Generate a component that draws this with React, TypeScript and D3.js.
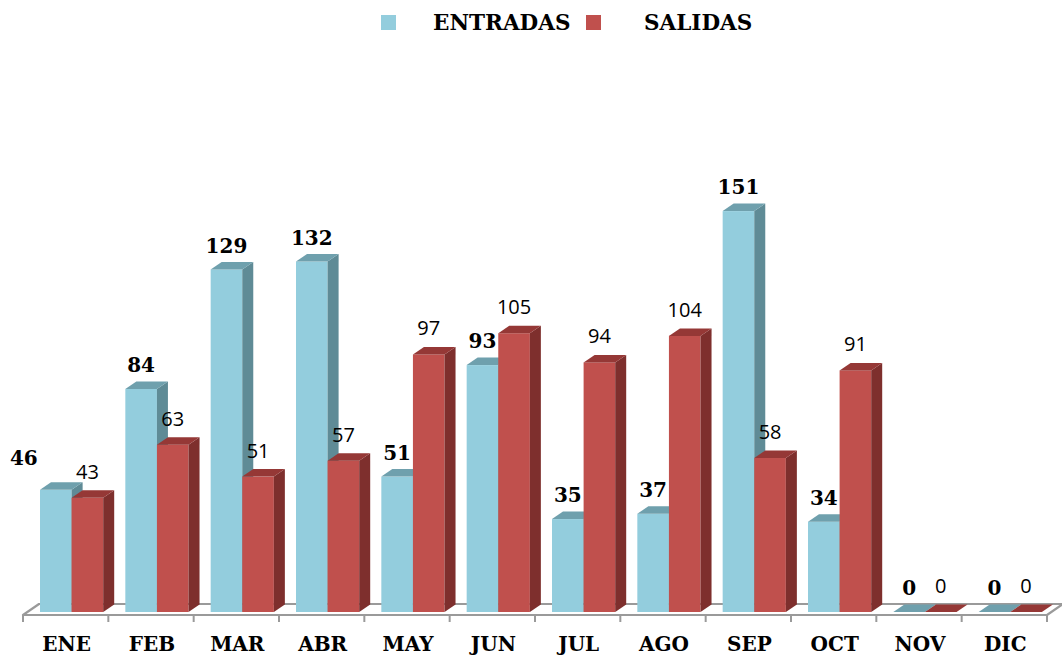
import React from "react";
import * as d3 from "d3";

const months = ["ENE", "FEB", "MAR", "ABR", "MAY", "JUN", "JUL", "AGO", "SEP", "OCT", "NOV", "DIC"];
const entradas = [46, 84, 129, 132, 51, 93, 35, 37, 151, 34, 0, 0];
const salidas = [43, 63, 51, 57, 97, 105, 94, 104, 58, 91, 0, 0];
const seriesNames = ["ENTRADAS", "SALIDAS"];

const W = 1062;
const H = 656;

const colors = [
  { front: "#93CDDD", side: "#5F8B96", top: "#6FA0AD" },
  { front: "#C0504D", side: "#7E2F2D", top: "#953836" },
];

const SERIF = "'DejaVu Serif', serif";
const SANS = "'Open Sans', 'Noto Sans', sans-serif";

export default function App() {
  const floorFrontY = 615;
  const floorDx = 16;
  const floorDy = -11;
  const baseY = 612;
  const plotLeft = 23;
  const plotRight = 1047;

  const x = d3.scaleBand<string>().domain(months).range([plotLeft, plotRight]).padding(0);
  const y = d3.scaleLinear().domain([0, 160]).range([baseY, baseY - 160 * 2.655]);

  const barW = 31.6;
  const depthX = 11;
  const depthY = -7.5;
  const barOffset = 17;

  const data = [entradas, salidas];

  const bars: React.ReactNode[] = [];
  months.forEach((m, i) => {
    data.forEach((series, s) => {
      const v = series[i];
      const x0 = (x(m) as number) + barOffset + s * barW;
      const x1 = x0 + barW;
      const yt = y(v);
      const c = colors[s];
      const key = `${m}-${s}`;
      if (v > 0) {
        bars.push(<rect key={key + "f"} x={x0} y={yt} width={barW} height={baseY - yt} fill={c.front} />);
        bars.push(
          <polygon
            key={key + "s"}
            points={`${x1},${yt} ${x1 + depthX},${yt + depthY} ${x1 + depthX},${baseY + depthY} ${x1},${baseY}`}
            fill={c.side}
          />
        );
      }
      bars.push(
        <polygon
          key={key + "t"}
          points={`${x0},${yt} ${x1},${yt} ${x1 + depthX},${yt + depthY} ${x0 + depthX},${yt + depthY}`}
          fill={c.top}
        />
      );
    });
  });

  const labels: React.ReactNode[] = [];
  months.forEach((m, i) => {
    data.forEach((series, s) => {
      const v = series[i];
      const x0 = (x(m) as number) + barOffset + s * barW;
      let cx = x0 + barW / 2;
      if (s === 0 && i === 0) cx -= 32;
      const yt = y(v);
      const by = s === 0 ? yt - 17 : yt - 19;
      labels.push(
        <text
          key={`l-${m}-${s}`}
          x={cx}
          y={i === 0 && s === 0 ? yt - 25 : by}
          textAnchor="middle"
          fontFamily={s === 0 ? SERIF : SANS}
          fontWeight={s === 0 ? "bold" : "normal"}
          fontSize={s === 0 ? 20 : 20}
          fill="#000"
        >
          {v}
        </text>
      );
    });
  });

  const ticks = d3.range(months.length + 1).map((i) => plotLeft + i * x.bandwidth());

  return (
    <svg width={W} height={H} style={{ position: "absolute", left: 0, top: 0, background: "#fff" }}>
      {/* legend */}
      <g>
        <rect x={381} y={15} width={15} height={15} fill={colors[0].front} />
        <text x={433} y={29.5} fontFamily={SERIF} fontWeight="bold" fontSize={21.5} fill="#000">
          {seriesNames[0]}
        </text>
        <rect x={586} y={15} width={15} height={15} fill={colors[1].front} />
        <text x={644} y={29.5} fontFamily={SERIF} fontWeight="bold" fontSize={21.5} fill="#000">
          {seriesNames[1]}
        </text>
      </g>
      {/* floor */}
      <polygon
        points={`${plotLeft},${floorFrontY} ${plotRight},${floorFrontY} ${plotRight + floorDx},${floorFrontY + floorDy} ${plotLeft + floorDx},${floorFrontY + floorDy}`}
        fill="#fff"
        stroke="#9A9A9A"
        strokeWidth={2.2}
        strokeLinejoin="round"
      />
      {ticks.map((t, i) => (
        <line key={"t" + i} x1={t} x2={t} y1={floorFrontY} y2={floorFrontY + 7} stroke="#9A9A9A" strokeWidth={2} />
      ))}
      {bars}
      {labels}
      {months.map((m) => (
        <text
          key={"c" + m}
          x={(x(m) as number) + x.bandwidth() / 2 + 1}
          y={651}
          textAnchor="middle"
          fontFamily={SERIF}
          fontWeight="bold"
          fontSize={20}
          fill="#000"
        >
          {m}
        </text>
      ))}
    </svg>
  );
}
